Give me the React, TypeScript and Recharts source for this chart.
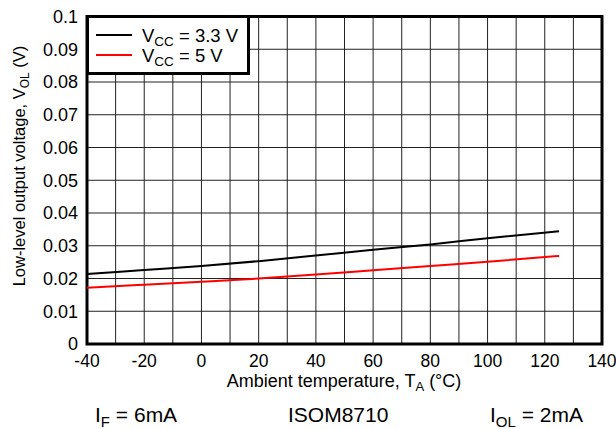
import React from 'react';
import { LineChart, Line, XAxis, YAxis, CartesianGrid, ReferenceArea, Legend } from 'recharts';

const temps = [-40, -20, 0, 20, 40, 60, 80, 100, 125];
const vol33 = [0.0214, 0.0226, 0.0238, 0.0253, 0.027, 0.0288, 0.0304, 0.0323, 0.0344];
const vol5 = [0.0172, 0.0181, 0.019, 0.02, 0.0212, 0.0225, 0.0238, 0.0251, 0.0269];
const xTicks = [-40, -30, -20, -10, 0, 10, 20, 30, 40, 50, 60, 70, 80, 90, 100, 110, 120, 130, 140];
const yTicks = [0, 0.01, 0.02, 0.03, 0.04, 0.05, 0.06, 0.07, 0.08, 0.09, 0.1];
const yTickLabels = ['0', '0.01', '0.02', '0.03', '0.04', '0.05', '0.06', '0.07', '0.08', '0.09', '0.1'];

const data = temps.map((t, i) => ({ t, a: vol33[i], b: vol5[i] }));

const FONT = '"Liberation Sans", Arial, sans-serif';

const sub = (s: string, size = 12, drop = 4) => (
  <span style={{ fontSize: size, verticalAlign: -drop, lineHeight: 0 }}>{s}</span>
);

const LegendBox = () => (
  <div
    style={{
      width: 158,
      height: 54,
      border: '3px solid #000',
      background: '#fff',
      fontFamily: FONT,
      fontSize: 18.5,
      color: '#000',
      position: 'relative',
    }}
  >
    <div style={{ position: 'absolute', left: 7, top: 16, width: 36, height: 2, background: '#000' }} />
    <div style={{ position: 'absolute', left: 53, top: 6.5, whiteSpace: 'nowrap', lineHeight: '22px' }}>
      V{sub('CC', 13.5, 4)} = 3.3 V
    </div>
    <div style={{ position: 'absolute', left: 7, top: 36, width: 36, height: 2, background: '#ff0000' }} />
    <div style={{ position: 'absolute', left: 53, top: 26.5, whiteSpace: 'nowrap', lineHeight: '22px' }}>
      V{sub('CC', 13.5, 4)} = 5 V
    </div>
  </div>
);

export default function App() {
  return (
    <div style={{ position: 'absolute', left: 0, top: 0, width: 616, height: 429, background: '#fff', fontFamily: FONT }}>
      <LineChart
        width={616}
        height={429}
        data={data}
        margin={{ top: 16.5, right: 14, left: 0, bottom: 0 }}
      >
        <CartesianGrid stroke="#222" strokeWidth={1} vertical horizontal />
        <XAxis
          dataKey="t"
          type="number"
          domain={[-40, 140]}
          ticks={xTicks}
          tickFormatter={(v: number) => (v % 20 === 0 ? String(v) : '')}
          tickLine={false}
          axisLine={false}
          tickSize={0}
          tickMargin={11}
          height={85}
          interval={0}
          tick={{ fill: '#000', fontSize: 17.5, fontFamily: FONT }}
        />
        <YAxis
          type="number"
          domain={[0, 0.1]}
          ticks={yTicks}
          tickFormatter={(v: number) => yTickLabels[yTicks.indexOf(v)] ?? String(v)}
          tickLine={false}
          axisLine={false}
          tickSize={0}
          tickMargin={9}
          width={87}
          interval={0}
          tick={{ fill: '#000', fontSize: 18, fontFamily: FONT }}
        />
        <Line type="monotone" dataKey="a" stroke="#000" strokeWidth={2} dot={false} isAnimationActive={false} />
        <Line type="monotone" dataKey="b" stroke="#ff0000" strokeWidth={2} dot={false} isAnimationActive={false} />
        <ReferenceArea x1={-40} x2={140} y1={0} y2={0.1} fill="none" fillOpacity={0} stroke="#000" strokeWidth={3} ifOverflow="visible" />
        <Legend
          layout="horizontal"
          verticalAlign="middle"
          align="center"
          content={() => <LegendBox />}
          wrapperStyle={{ left: 86, top: 15, width: 'auto', height: 'auto' }}
        />
      </LineChart>
      <div
        style={{
          position: 'absolute',
          left: 19,
          top: 166,
          transform: 'translate(-50%, -50%) rotate(-90deg)',
          whiteSpace: 'nowrap',
          fontSize: 16.5,
          color: '#000',
          lineHeight: '20px',
        }}
      >
        Low-level output voltage, V{sub('OL', 12, 4)} (V)
      </div>
      <div
        style={{
          position: 'absolute',
          left: 344,
          top: 372,
          transform: 'translateX(-50%)',
          whiteSpace: 'nowrap',
          fontSize: 18,
          color: '#000',
          lineHeight: '18px',
        }}
      >
        Ambient temperature, T{sub('A', 13, 4)} (°C)
      </div>
      <div style={{ position: 'absolute', left: 95, top: 403, whiteSpace: 'nowrap', fontSize: 21, lineHeight: '24px', color: '#000' }}>
        I{sub('F', 15, 5)} = 6mA
      </div>
      <div style={{ position: 'absolute', left: 288, top: 403, whiteSpace: 'nowrap', fontSize: 21, lineHeight: '24px', color: '#000' }}>
        ISOM8710
      </div>
      <div style={{ position: 'absolute', left: 490, top: 403, whiteSpace: 'nowrap', fontSize: 21, lineHeight: '24px', color: '#000' }}>
        I{sub('OL', 15, 5)} = 2mA
      </div>
    </div>
  );
}
